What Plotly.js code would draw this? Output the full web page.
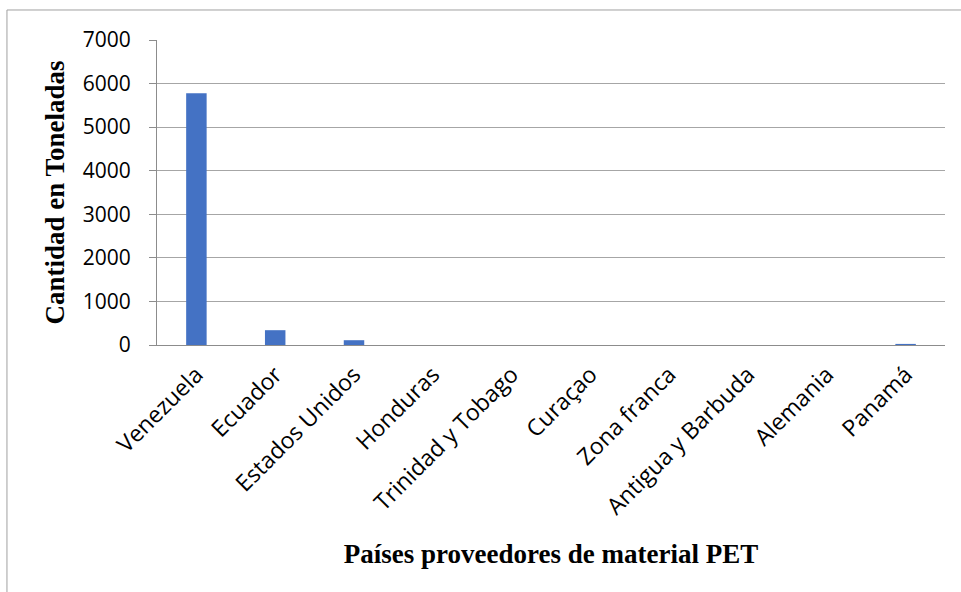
<!DOCTYPE html>
<html>
<head>
<meta charset="utf-8">
<script src="https://cdn.plot.ly/plotly-3.0.1.min.js"></script>
<style>html,body{margin:0;padding:0;background:#fff;}#chart{width:961px;height:592px;}</style>
</head>
<body>
<div id="chart"></div>
<script>
const paises = ["Venezuela", "Ecuador", "Estados Unidos", "Honduras", "Trinidad y Tobago", "Curaçao", "Zona franca", "Antigua y Barbuda", "Alemania", "Panamá"];
const toneladas = [5780, 340, 110, 0, 0, 0, 0, 0, 0, 25];
const yTicks = [0, 1000, 2000, 3000, 4000, 5000, 6000, 7000];
const tituloX = "Países proveedores de material PET";
const tituloY = "Cantidad en Toneladas";

const xTickFont = {family: "'Open Sans', Lato, sans-serif", size: 23, color: "#000"};
const yTickFont = {family: "'Open Sans', Lato, sans-serif", size: 21, color: "#000"};
const titleFont = {family: "'Liberation Serif', 'Times New Roman', serif", size: 27, color: "#000", weight: "bold"};

Plotly.newPlot("chart", [{
  type: "bar",
  x: paises,
  y: toneladas,
  marker: {color: "#4472C4", line: {width: 0}},
  hoverinfo: "x+y"
}], {
  width: 961, height: 592,
  margin: {l: 157, r: 16, t: 40, b: 247},
  paper_bgcolor: "#fff", plot_bgcolor: "#fff",
  bargap: 0.74,
  showlegend: false,
  xaxis: {
    type: "category",
    tickangle: -45,
    tickfont: xTickFont,
    showgrid: false,
    showline: true, linecolor: "#8c8c8c", linewidth: 1,
    ticks: "",
    ticklabelstandoff: 6,
    title: {text: tituloX, font: titleFont, standoff: 24}
  },
  yaxis: {
    range: [0, 7000],
    tickvals: yTicks,
    ticktext: yTicks.map(String),
    tickfont: yTickFont,
    showgrid: true, gridcolor: "#a6a6a6", gridwidth: 1,
    zeroline: false,
    showline: true, linecolor: "#8c8c8c", linewidth: 1,
    ticks: "outside", ticklen: 7, tickcolor: "#8c8c8c",
    ticklabelstandoff: 14,
    title: {text: tituloY, font: titleFont, standoff: 10}
  },
  shapes: [{
    type: "rect", xref: "paper", yref: "paper",
    x0: -0.1904, x1: 1.2, y0: -1.5, y1: 1.0984,
    line: {color: "#a0a0a0", width: 1}, fillcolor: "rgba(0,0,0,0)"
  }]
}, {displayModeBar: false, staticPlot: true});
</script>
</body>
</html>
